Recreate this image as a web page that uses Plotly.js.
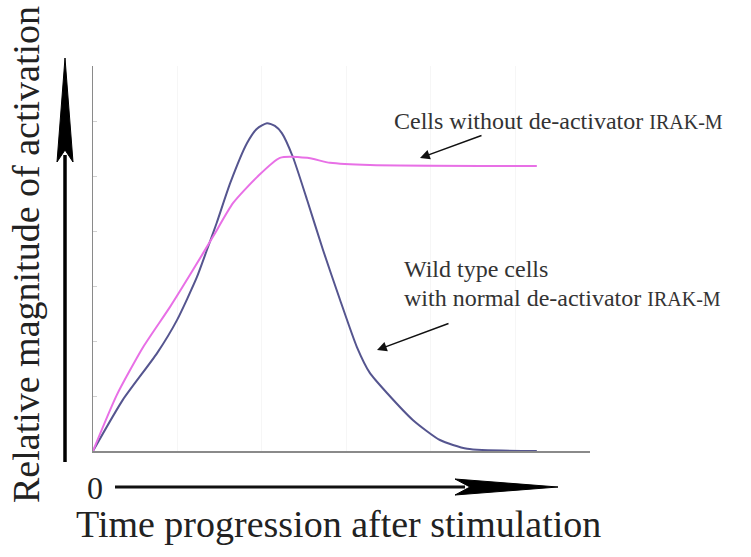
<!DOCTYPE html>
<html><head><meta charset="utf-8">
<script src="https://cdn.plot.ly/plotly-3.0.1.min.js"></script>
<style>html,body{margin:0;padding:0;background:#fff}#chart{width:751px;height:557px}</style>
</head><body><div id="chart"></div>
<script>
// Data (arbitrary time units / relative activation)
var wildTypeTime = [0, 0.60, 1.29, 1.69, 2.09, 2.29, 2.49, 2.76, 3.10, 3.30, 3.50, 3.66, 3.80, 4.02, 4.31, 4.63, 4.97, 5.31, 5.57, 5.92, 6.44, 6.98, 7.53, 8.93];
var wildTypeAct  = [0, 0.93, 1.78, 2.38, 3.16, 3.65, 4.15, 4.87, 5.60, 5.86, 5.96, 5.91, 5.78, 5.35, 4.56, 3.65, 2.75, 1.89, 1.42, 1.05, 0.56, 0.20, 0.04, 0.0];
var knockoutTime = [0, 0.48, 1.01, 1.55, 2.01, 2.41, 2.82, 3.30, 3.76, 4.31, 4.77, 5.57, 8.93];
var knockoutAct  = [0, 1.02, 1.89, 2.62, 3.29, 3.89, 4.51, 4.98, 5.33, 5.33, 5.24, 5.20, 5.18];

var L = 93, R = 590, T = 66, B = 451, W = 751, H = 557;
function px(x){ return (x - L) / (R - L); }
function py(y){ return (B - y) / (B - T); }
var serif = 'Liberation Serif, Times New Roman, serif';

var traces = [
  {x: wildTypeTime, y: wildTypeAct, mode: 'lines', line: {color: '#55558f', width: 2, shape: 'spline', smoothing: 0.6}, name: 'Wild type', hoverinfo: 'skip'},
  {x: knockoutTime, y: knockoutAct, mode: 'lines', line: {color: '#e870e6', width: 2, shape: 'spline', smoothing: 0.6}, name: 'IRAK-M-/-', hoverinfo: 'skip'}
];

var vArrowHead = 'M ' + px(57) + ' ' + py(162) + ' L ' + px(65) + ' ' + py(58) + ' L ' + px(73) + ' ' + py(162) + ' L ' + px(65) + ' ' + py(150) + ' Z';
var hArrowHead = 'M ' + px(455) + ' ' + py(479) + ' L ' + px(558) + ' ' + py(487) + ' L ' + px(455) + ' ' + py(495) + ' L ' + px(470) + ' ' + py(487) + ' Z';
var small = function(t){ return '<span style="font-size:20px">' + t + '</span>'; };

var layout = {
  width: W, height: H,
  margin: {l: L, r: W - R, t: T, b: H - B},
  paper_bgcolor: '#fff', plot_bgcolor: '#fff',
  showlegend: false,
  xaxis: {range: [0, 10], showgrid: true, gridcolor: '#f6f6f6', dtick: 1.7, zeroline: false,
          showline: true, linecolor: '#8a8a8a', linewidth: 1.5, showticklabels: false, ticks: ''},
  yaxis: {range: [0, 7], showgrid: false, zeroline: false, dtick: 1,
          showline: true, linecolor: '#8a8a8a', linewidth: 1.5, showticklabels: false,
          ticks: 'inside', ticklen: 4, tickcolor: '#d0d0d0'},
  shapes: [
    {type: 'line', xref: 'paper', yref: 'paper', x0: px(65), x1: px(65), y0: py(462), y1: py(155), line: {color: '#000', width: 3.5}},
    {type: 'path', xref: 'paper', yref: 'paper', path: vArrowHead, fillcolor: '#000', line: {color: '#000', width: 1}},
    {type: 'line', xref: 'paper', yref: 'paper', x0: px(115), x1: px(465), y0: py(487), y1: py(487), line: {color: '#111', width: 3}},
    {type: 'path', xref: 'paper', yref: 'paper', path: hArrowHead, fillcolor: '#000', line: {color: '#000', width: 1}}
  ],
  annotations: [
    {xref: 'paper', yref: 'paper', x: px(26), y: py(255), text: 'Relative magnitude of activation', textangle: -90,
     showarrow: false, xanchor: 'center', yanchor: 'middle', font: {family: serif, size: 38, color: '#222'}},
    {xref: 'paper', yref: 'paper', x: px(338), y: py(524), text: 'Time progression after stimulation',
     showarrow: false, xanchor: 'center', yanchor: 'middle', font: {family: serif, size: 38, color: '#222'}},
    {xref: 'paper', yref: 'paper', x: px(95), y: py(488), text: '0',
     showarrow: false, xanchor: 'center', yanchor: 'middle', font: {family: serif, size: 32, color: '#222'}},
    {xref: 'paper', yref: 'paper', x: px(392), y: py(121), text: 'Cells without de-activator ' + small('IRAK-M'),
     showarrow: false, xanchor: 'left', yanchor: 'middle', font: {family: serif, size: 24, color: '#333'}},
    {xref: 'paper', yref: 'paper', x: px(402), y: py(269), text: 'Wild type cells',
     showarrow: false, xanchor: 'left', yanchor: 'middle', font: {family: serif, size: 24, color: '#333'}},
    {xref: 'paper', yref: 'paper', x: px(402), y: py(298), text: 'with normal de-activator ' + small('IRAK-M'),
     showarrow: false, xanchor: 'left', yanchor: 'middle', font: {family: serif, size: 24, color: '#333'}},
    {xref: 'paper', yref: 'paper', x: px(420), y: py(158), ax: 63, ay: -23, text: '', showarrow: true,
     arrowhead: 2, arrowsize: 1.3, arrowwidth: 1.5, arrowcolor: '#111'},
    {xref: 'paper', yref: 'paper', x: px(377), y: py(350), ax: 73, ay: -27, text: '', showarrow: true,
     arrowhead: 2, arrowsize: 1.3, arrowwidth: 1.5, arrowcolor: '#111'}
  ]
};

Plotly.newPlot('chart', traces, layout, {displayModeBar: false, staticPlot: true});
</script></body></html>
